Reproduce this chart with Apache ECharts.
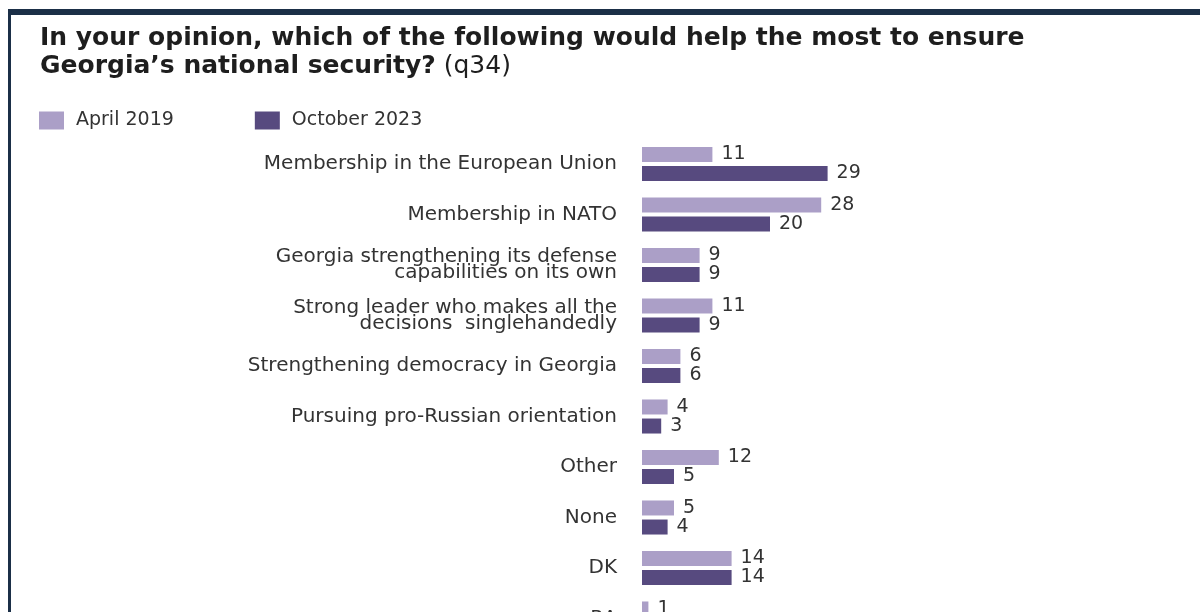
<!DOCTYPE html>
<html>
<head>
<meta charset="utf-8">
<script src="https://cdn.jsdelivr.net/npm/echarts@6/dist/echarts.min.js"></script>
<style>
html,body{margin:0;padding:0;background:#fff;overflow:hidden;}
#chart{width:1200px;height:650px;}
</style>
</head>
<body>
<div id="chart"></div>
<script>
const categories = [
  'Membership in the European Union',
  'Membership in NATO',
  'Georgia strengthening its defense\ncapabilities on its own',
  'Strong leader who makes all the\ndecisions  singlehandedly',
  'Strengthening democracy in Georgia',
  'Pursuing pro-Russian orientation',
  'Other',
  'None',
  'DK',
  'RA'
];
const seriesNames = ['April 2019', 'October 2023'];
const april2019 = [11, 28, 9, 11, 6, 4, 12, 5, 14, 1];
const october2023 = [29, 20, 9, 9, 6, 3, 5, 4, 14, 1];
const titleLine1 = 'In your opinion, which of the following would help the most to ensure';
const titleLine2a = 'Georgia\u2019s national security?';
const titleLine2b = ' (q34)';

const chart = echarts.init(document.getElementById('chart'), null, {renderer: 'canvas'});
const FONT = "'DejaVu Sans', 'Noto Sans', sans-serif";
const LIGHT = '#ab9fc7';
const DARK = '#574a7f';

const labelStyle = {
  show: true,
  position: 'right',
  distance: 9,
  fontFamily: FONT,
  fontSize: 19,
  color: '#333'
};

chart.setOption({
  animation: false,
  backgroundColor: '#ffffff',
  title: {
    left: 40,
    top: 24,
    padding: 0,
    text: '{b|' + titleLine1 + '}\n{b|' + titleLine2a + '}{n|' + titleLine2b + '}',
    textStyle: {
      rich: {
        b: {fontFamily: FONT, fontSize: 25, fontWeight: 'bold', color: '#1e1e1e', lineHeight: 28},
        n: {fontFamily: FONT, fontSize: 25, fontWeight: 'normal', color: '#1e1e1e', lineHeight: 28}
      }
    }
  },
  legend: {
    left: 39,
    top: 111,
    padding: 0,
    itemWidth: 25,
    itemHeight: 18,
    itemGap: 81,
    icon: 'rect',
    data: seriesNames,
    textStyle: {fontFamily: FONT, fontSize: 19, color: '#333', padding: [0, 0, 0, 7]}
  },
  grid: {
    left: 642,
    top: 138.75,
    width: 192,
    height: 505,
    containLabel: false
  },
  xAxis: {
    type: 'value',
    min: 0,
    max: 30,
    show: false
  },
  yAxis: {
    type: 'category',
    inverse: true,
    data: categories,
    axisLine: {show: false},
    axisTick: {show: false},
    splitLine: {show: false},
    axisLabel: {
      margin: 25,
      fontFamily: FONT,
      fontSize: 20,
      color: '#333',
      lineHeight: 16,
      align: 'right'
    }
  },
  series: [
    {
      name: seriesNames[0],
      type: 'bar',
      data: april2019,
      barWidth: 15,
      barGap: '27%',
      itemStyle: {color: LIGHT},
      label: labelStyle
    },
    {
      name: seriesNames[1],
      type: 'bar',
      data: october2023,
      barWidth: 15,
      barGap: '27%',
      itemStyle: {color: DARK},
      label: labelStyle
    }
  ],
  graphic: [
    {type: 'rect', shape: {x: 8, y: 9, width: 1192, height: 6}, style: {fill: '#1b2f47'}, z: 100},
    {type: 'rect', shape: {x: 8, y: 9, width: 3, height: 641}, style: {fill: '#1b2f47'}, z: 100}
  ]
});
</script>
</body>
</html>
